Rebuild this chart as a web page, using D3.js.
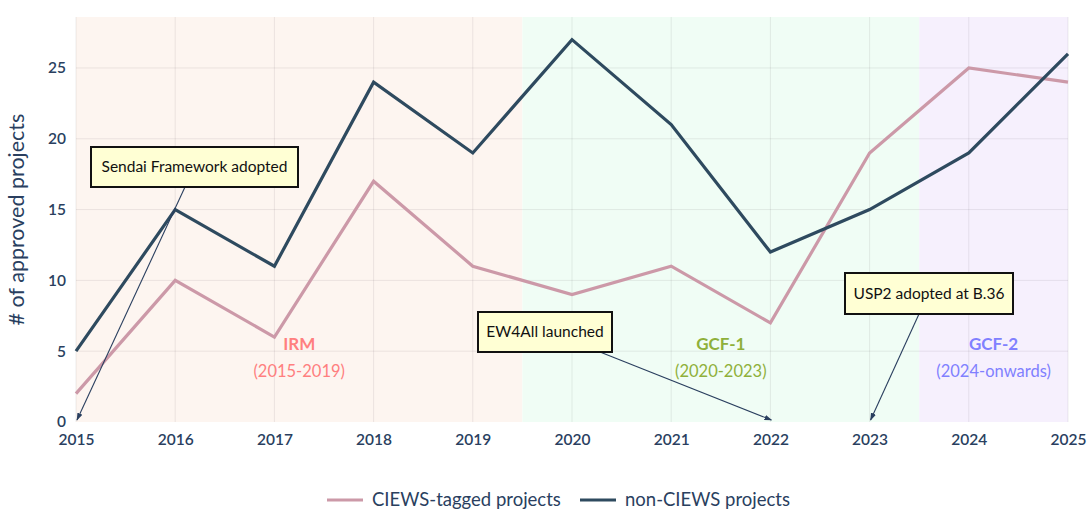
<!DOCTYPE html>
<html>
<head>
<meta charset="utf-8">
<script src="https://cdn.jsdelivr.net/npm/d3@7"></script>
<style>
  body { margin: 0; background: #fff; }
  svg { display: block; font-family: Lato, "Open Sans", sans-serif; }
</style>
</head>
<body>
<svg id="chart" width="1088" height="513"></svg>
<script>
// data
var years = [2015, 2016, 2017, 2018, 2019, 2020, 2021, 2022, 2023, 2024, 2025];
var ciews = [2, 10, 6, 17, 11, 9, 11, 7, 19, 25, 24];
var nonCiews = [5, 15, 11, 24, 19, 27, 21, 12, 15, 19, 26];
var yTicks = [0, 5, 10, 15, 20, 25];

var periodNames = ["IRM", "GCF-1", "GCF-2"];
var periodSpans = ["(2015-2019)", "(2020-2023)", "(2024-onwards)"];
var periodStart = [2015, 2019.5, 2023.5];
var periodEnd = [2019.5, 2023.5, 2025];
var periodLabelX = [2017.25, 2021.5, 2024.25];

var notes = ["Sendai Framework adopted", "EW4All launched", "USP2 adopted at B.36"];
var noteYear = [2015, 2022, 2023];

var svg = d3.select("#chart");
var margin = { left: 76, right: 20, top: 17, bottom: 91 };
var W = 1088, H = 513;

var x = d3.scaleLinear().domain([2015, 2025]).range([margin.left, W - margin.right]);
var y = d3.scaleLinear().domain([0, 28.6]).range([H - margin.bottom, margin.top]);

var bgColors = ["#fdf5f0", "#f0fdf5", "#f6f0fd"];
var labelColors = ["#ff7f7f", "#8fb03a", "#8080ff"];

// period backgrounds
svg.append("g").selectAll("rect").data(periodNames).enter().append("rect")
    .attr("x", function (d, i) { return x(periodStart[i]); })
    .attr("width", function (d, i) { return x(periodEnd[i]) - x(periodStart[i]); })
    .attr("y", y(28.6))
    .attr("height", y(0) - y(28.6))
    .attr("fill", function (d, i) { return bgColors[i]; });

// grid
var grid = svg.append("g").attr("stroke", "rgba(60,40,50,0.09)").attr("stroke-width", 1);
grid.selectAll("line.v").data(years).enter().append("line")
    .attr("x1", function (d) { return x(d); }).attr("x2", function (d) { return x(d); })
    .attr("y1", y(0)).attr("y2", y(28.6));
grid.selectAll("line.h").data(yTicks.slice(1)).enter().append("line")
    .attr("x1", x(2015)).attr("x2", x(2025))
    .attr("y1", function (d) { return y(d); }).attr("y2", function (d) { return y(d); });

// axes
var xAxis = svg.append("g").attr("transform", "translate(0," + (y(0) + 4) + ")")
    .call(d3.axisBottom(x).tickValues(years).tickFormat(d3.format("d")).tickSize(0).tickPadding(8));
var yAxis = svg.append("g").attr("transform", "translate(" + (x(2015) - 6) + ",0)")
    .call(d3.axisLeft(y).tickValues(yTicks).tickSize(0).tickPadding(4));
[xAxis, yAxis].forEach(function (a) {
    a.select(".domain").remove();
    a.selectAll("text").attr("fill", "#2a3f5f").attr("font-size", 15.5)
        .attr("font-family", "Lato, sans-serif").attr("font-weight", 600);
});

svg.append("text")
    .attr("transform", "translate(24," + y(14.3) + ") rotate(-90)")
    .attr("text-anchor", "middle")
    .attr("fill", "#2a3f5f").attr("font-size", 21.5)
    .text("# of approved projects");

// period labels
svg.append("g").selectAll("text").data(periodNames).enter().append("text")
    .attr("x", function (d, i) { return x(periodLabelX[i]); })
    .attr("y", y(5.5) + 6)
    .attr("text-anchor", "middle").attr("font-weight", "bold").attr("font-size", 17)
    .attr("fill", function (d, i) { return labelColors[i]; })
    .text(function (d) { return d; });
svg.append("g").selectAll("text").data(periodSpans).enter().append("text")
    .attr("x", function (d, i) { return x(periodLabelX[i]); })
    .attr("y", y(3.6) + 6)
    .attr("text-anchor", "middle").attr("font-size", 16.5)
    .attr("fill", function (d, i) { return labelColors[i]; })
    .text(function (d) { return d; });

// lines
var line = d3.line()
    .x(function (d, i) { return x(years[i]); })
    .y(function (d) { return y(d); });
svg.append("path").attr("d", line(ciews))
    .attr("fill", "none").attr("stroke", "#cc99a8").attr("stroke-width", 3.2);
svg.append("path").attr("d", line(nonCiews))
    .attr("fill", "none").attr("stroke", "#2e4a5f").attr("stroke-width", 3.2);

// annotations
var defs = svg.append("defs");
defs.append("marker").attr("id", "arr").attr("viewBox", "0 0 10 10")
    .attr("refX", 9).attr("refY", 5).attr("markerWidth", 7).attr("markerHeight", 7)
    .attr("orient", "auto-start-reverse")
    .append("path").attr("d", "M0,1.5 L10,5 L0,8.5 Z").attr("fill", "#2a3f5f");

var boxes = [
    { x: 91, y: 147, w: 207, h: 40, ax: 185 },
    { x: 478, y: 312, w: 134, h: 40, ax: 600 },
    { x: 845, y: 273, w: 168, h: 41, ax: 919 }
];
var ann = svg.append("g").selectAll("g").data(notes).enter().append("g");
ann.append("line")
    .attr("x1", function (d, i) { return boxes[i].ax; })
    .attr("y1", function (d, i) { return boxes[i].y + boxes[i].h; })
    .attr("x2", function (d, i) { return x(noteYear[i]) + 1; })
    .attr("y2", y(0) - 2)
    .attr("stroke", "#2a3f5f").attr("stroke-width", 1.1)
    .attr("marker-end", "url(#arr)");
ann.append("rect")
    .attr("x", function (d, i) { return boxes[i].x; })
    .attr("y", function (d, i) { return boxes[i].y; })
    .attr("width", function (d, i) { return boxes[i].w; })
    .attr("height", function (d, i) { return boxes[i].h; })
    .attr("fill", "#ffffd4").attr("stroke", "#111").attr("stroke-width", 2);
ann.append("text")
    .attr("x", function (d, i) { return boxes[i].x + boxes[i].w / 2; })
    .attr("y", function (d, i) { return boxes[i].y + boxes[i].h / 2 + 5; })
    .attr("text-anchor", "middle").attr("font-size", 15.5).attr("fill", "#111")
    .text(function (d) { return d; });

// legend
var legend = svg.append("g").attr("transform", "translate(0,500)");
var legItems = [
    { label: "CIEWS-tagged projects", color: "#cc99a8", x: 327 },
    { label: "non-CIEWS projects", color: "#2e4a5f", x: 580 }
];
var li = legend.selectAll("g").data(legItems).enter().append("g")
    .attr("transform", function (d) { return "translate(" + d.x + ",0)"; });
li.append("line").attr("x1", 0).attr("x2", 36).attr("y1", 0).attr("y2", 0)
    .attr("stroke", function (d) { return d.color; }).attr("stroke-width", 3.2);
li.append("text").attr("x", 45).attr("y", 6).attr("font-size", 18.5).attr("fill", "#2a3f5f")
    .text(function (d) { return d.label; });
</script>
</body>
</html>
